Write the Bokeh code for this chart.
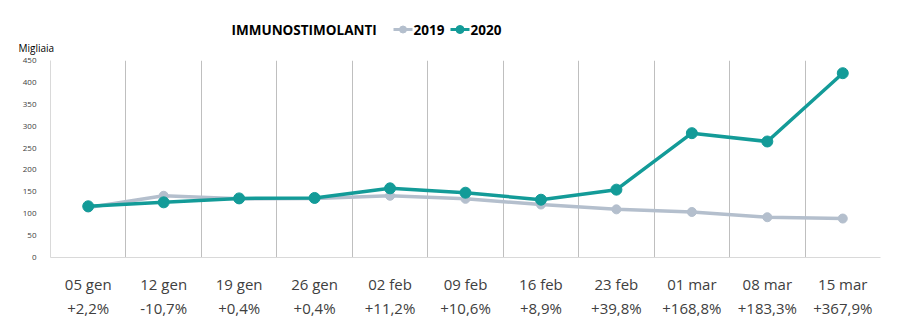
from bokeh.plotting import figure
from bokeh.layouts import column
from bokeh.models import Range1d, FixedTicker, LinearAxis, ColumnDataSource
from bokeh.core.properties import value
from bokeh.embed import file_html
from bokeh.resources import INLINE

weeks = ["05 gen", "12 gen", "19 gen", "26 gen", "02 feb", "09 feb", "16 feb", "23 feb", "01 mar", "08 mar", "15 mar"]
changes = ["+2,2%", "-10,7%", "+0,4%", "+0,4%", "+11,2%", "+10,6%", "+8,9%", "+39,8%", "+168,8%", "+183,3%", "+367,9%"]
v2019 = [114, 141, 134, 135, 141, 134, 121, 110, 104, 92, 89]
v2020 = [117, 126, 135, 136, 158, 148, 132, 155, 284, 265, 421]
yticks = [0, 50, 100, 150, 200, 250, 300, 350, 400, 450]
series_names = ["2019", "2020"]
title_text = "IMMUNOSTIMOLANTI"
unit_text = "Migliaia"

FONT = "Open Sans"
C2019 = "#b4bfcd"
C2020 = "#139b98"
n = len(weeks)
xs = [i + 0.5 for i in range(n)]

# ---------- header (title, legend, unit) ----------
HW, HH = 898, 55
h = figure(width=HW, height=HH, output_backend="svg", toolbar_location=None,
           x_range=Range1d(0, HW), y_range=Range1d(HH, 0),
           x_axis_location=None, y_axis_location=None,
           min_border=0, min_border_left=0, min_border_right=0, min_border_top=0, min_border_bottom=0)
if "frame_align" in h.properties():
    h.frame_align = False
h.outline_line_color = None
h.xgrid.visible = False
h.ygrid.visible = False

h.text(x=[231], y=[29], text=[title_text], text_font=value(FONT), text_font_size="13.5px",
       text_font_style="bold", text_color="#000000", text_baseline="middle", text_align="left")
leg_x = [393, 450]
leg_col = [C2019, C2020]
for lx, c, nm, sz in zip(leg_x, leg_col, series_names, [7, 8]):
    h.line(x=[lx, lx + 19], y=[29, 29], line_color=c, line_width=3)
    h.scatter(x=[lx + 9.5], y=[29], size=sz, fill_color=c, line_color=c)
    h.text(x=[lx + 20], y=[29], text=[nm], text_font=value(FONT), text_font_size="13.5px",
           text_font_style="bold", text_color="#000000", text_baseline="middle", text_align="left")
h.text(x=[18], y=[47.5], text=[unit_text], text_font=value(FONT), text_font_size="10px",
       text_color="#000000", text_baseline="middle", text_align="left")

# ---------- main chart ----------
p = figure(width=898, height=331 - HH, output_backend="svg", toolbar_location=None,
           x_range=Range1d(0, n), y_range=Range1d(0, 450),
           x_axis_location=None, y_axis_location=None,
           min_border_left=50, min_border_right=18, min_border_top=60 - HH, min_border_bottom=74)
if "frame_align" in p.properties():
    p.frame_align = False
p.outline_line_color = None

p.xgrid.ticker = FixedTicker(ticks=list(range(1, n + 1)))
p.xgrid.grid_line_color = "#bfbfbf"
p.xgrid.grid_line_width = 1
p.ygrid.grid_line_color = None

yax = LinearAxis(ticker=FixedTicker(ticks=yticks))
yax.axis_line_color = "#d9d9d9"
yax.major_tick_line_color = None
yax.minor_tick_line_color = None
yax.major_label_text_font = FONT
yax.major_label_text_font_size = "8px"
yax.major_label_text_color = "#404040"
yax.major_label_standoff = 8
p.add_layout(yax, "left")

ax1 = LinearAxis(ticker=FixedTicker(ticks=xs),
                 major_label_overrides={x: w for x, w in zip(xs, weeks)})
ax1.axis_line_color = "#d9d9d9"
ax1.major_tick_line_color = None
ax1.minor_tick_line_color = None
ax1.major_label_text_font = FONT
ax1.major_label_text_font_size = "15px"
ax1.major_label_text_color = "#404040"
ax1.major_label_standoff = 10
p.add_layout(ax1, "below")

ax2 = LinearAxis(ticker=FixedTicker(ticks=xs),
                 major_label_overrides={x: c for x, c in zip(xs, changes)})
ax2.axis_line_color = None
ax2.major_tick_line_color = None
ax2.minor_tick_line_color = None
ax2.major_label_text_font = FONT
ax2.major_label_text_font_size = "15px"
ax2.major_label_text_color = "#404040"
ax2.major_label_standoff = -5
p.add_layout(ax2, "below")

src = ColumnDataSource(dict(x=xs, a=v2019, b=v2020))
p.line("x", "a", source=src, line_color=C2019, line_width=3.5)
p.scatter("x", "a", source=src, size=9, fill_color=C2019, line_color=C2019)
p.line("x", "b", source=src, line_color=C2020, line_width=3.5)
p.scatter("x", "b", source=src, size=11, fill_color=C2020, line_color=C2020)

layout = column(h, p, spacing=0)
open("out.html", "w").write(file_html(layout, INLINE))
